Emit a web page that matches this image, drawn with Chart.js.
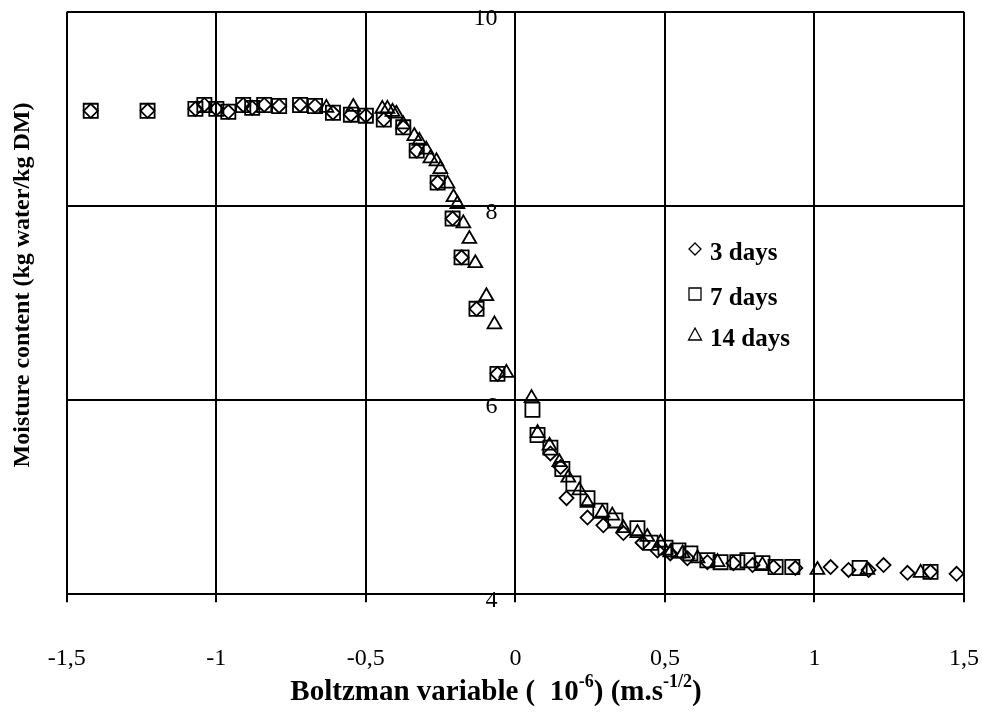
<!DOCTYPE html>
<html>
<head>
<meta charset="utf-8">
<script src="https://cdn.jsdelivr.net/npm/chart.js@4"></script>
<style>
  body { margin: 0; background: #fff; }
  #wrap { width: 982px; height: 712px; }
</style>
</head>
<body>
<div id="wrap"><canvas id="chart" width="982" height="712"></canvas></div>
<script>
const FONT = "'Liberation Serif', 'Times New Roman', serif";

// 3 days
const x3 = [-1.42, -1.23, -1.07, -1.04, -1.00, -0.96, -0.91, -0.88, -0.84, -0.79, -0.72, -0.67, -0.61, -0.55, -0.50, -0.44, -0.375, -0.33, -0.26, -0.21, -0.18, -0.13, -0.06,
  0.117, 0.151, 0.171, 0.241, 0.294, 0.361, 0.425, 0.475, 0.518, 0.575, 0.642, 0.729, 0.793, 0.863, 0.936, 1.054, 1.114, 1.181, 1.231, 1.311, 1.388, 1.475];
const y3 = [8.98, 8.98, 9.00, 9.04, 9.00, 8.97, 9.04, 9.01, 9.04, 9.03, 9.04, 9.03, 8.96, 8.94, 8.93, 8.89, 8.81, 8.57, 8.24, 7.87, 7.47, 6.94, 6.27,
  5.45, 5.31, 4.99, 4.79, 4.71, 4.63, 4.53, 4.45, 4.42, 4.37, 4.33, 4.32, 4.30, 4.28, 4.27, 4.28, 4.25, 4.25, 4.30, 4.22, 4.23, 4.21];

// 7 days
const x7 = [-1.42, -1.23, -1.07, -1.04, -1.00, -0.96, -0.91, -0.88, -0.84, -0.79, -0.72, -0.67, -0.61, -0.55, -0.50, -0.44, -0.375, -0.33, -0.26, -0.21, -0.18, -0.13, -0.06,
  0.057, 0.074, 0.117, 0.157, 0.194, 0.241, 0.284, 0.334, 0.408, 0.452, 0.502, 0.545, 0.585, 0.642, 0.686, 0.742, 0.776, 0.826, 0.870, 0.926, 1.151, 1.388];
const y7 = [8.98, 8.98, 9.00, 9.04, 9.00, 8.97, 9.04, 9.01, 9.04, 9.03, 9.04, 9.03, 8.96, 8.94, 8.93, 8.89, 8.81, 8.57, 8.24, 7.87, 7.47, 6.94, 6.27,
  5.90, 5.64, 5.51, 5.29, 5.14, 4.99, 4.86, 4.76, 4.68, 4.53, 4.48, 4.45, 4.42, 4.35, 4.33, 4.33, 4.35, 4.32, 4.28, 4.28, 4.27, 4.23];

// 14 days
const x14 = [-0.632, -0.542, -0.445, -0.428, -0.411, -0.398, -0.375, -0.338, -0.321, -0.298, -0.284, -0.264, -0.251, -0.227, -0.207, -0.194, -0.174, -0.154, -0.134, -0.097, -0.070, -0.030,
  0.054, 0.074, 0.114, 0.147, 0.177, 0.214, 0.241, 0.291, 0.324, 0.361, 0.408, 0.441, 0.485, 0.518, 0.559, 0.609, 0.676, 0.826, 1.010, 1.177, 1.355];
const y14 = [9.01, 9.02, 9.00, 9.00, 8.97, 8.95, 8.84, 8.72, 8.67, 8.58, 8.49, 8.46, 8.38, 8.23, 8.09, 8.02, 7.82, 7.66, 7.41, 7.07, 6.78, 6.28,
  6.02, 5.66, 5.53, 5.36, 5.20, 5.07, 4.94, 4.84, 4.81, 4.68, 4.63, 4.59, 4.53, 4.43, 4.42, 4.37, 4.33, 4.30, 4.25, 4.25, 4.22];

const seriesNames = ["3 days", "7 days", "14 days"];
const xTicks = [-1.5, -1, -0.5, 0, 0.5, 1, 1.5];
const yTicks = [4, 6, 8, 10];

const toPoints = (xs, ys) => xs.map((x, i) => ({ x: x, y: ys[i] }));

const marker = (style, radius) => ({
  showLine: false,
  pointStyle: style,
  pointRadius: radius,
  pointHoverRadius: radius,
  pointBorderWidth: 1.8,
  borderColor: "#000",
  backgroundColor: "rgba(0,0,0,0)"
});

// legend drawn inside the plot, no frame
const legendPlugin = {
  id: "innerLegend",
  afterDraw(chart) {
    const ctx = chart.ctx;
    const rows = [252, 297, 338];
    ctx.save();
    ctx.strokeStyle = "#000";
    ctx.lineWidth = 1.3;
    ctx.fillStyle = "#000";
    ctx.font = "bold 25px " + FONT;
    ctx.textBaseline = "middle";
    chart.data.datasets.forEach((ds, i) => {
      const mx = 695, my = rows[i] - 3;
      ctx.beginPath();
      if (ds.pointStyle === "rectRot") {
        ctx.moveTo(mx, my - 6); ctx.lineTo(mx + 6, my); ctx.lineTo(mx, my + 6); ctx.lineTo(mx - 6, my); ctx.closePath();
      } else if (ds.pointStyle === "rect") {
        ctx.rect(mx - 6, my - 6, 12, 12);
      } else {
        ctx.moveTo(mx, my - 7); ctx.lineTo(mx + 6.5, my + 5); ctx.lineTo(mx - 6.5, my + 5); ctx.closePath();
      }
      ctx.stroke();
      ctx.fillText(ds.label, 710, rows[i] + 2);
    });
    ctx.restore();
  }
};

// x axis title with superscripts
const xTitlePlugin = {
  id: "xTitle",
  afterDraw(chart) {
    const ctx = chart.ctx;
    const parts = [
      ["Boltzman variable (  10", false],
      ["-6", true],
      [") (m.s", false],
      ["-1/2", true],
      [")", false]
    ];
    const big = "bold 29px " + FONT, small = "bold 18px " + FONT;
    ctx.save();
    ctx.fillStyle = "#000";
    ctx.textBaseline = "alphabetic";
    let w = 0;
    parts.forEach(p => { ctx.font = p[1] ? small : big; w += ctx.measureText(p[0]).width; });
    let x = 496 - w / 2;
    const base = 700;
    parts.forEach(p => {
      ctx.font = p[1] ? small : big;
      ctx.fillText(p[0], x, p[1] ? base - 13 : base);
      x += ctx.measureText(p[0]).width;
    });
    ctx.restore();
  }
};

new Chart(document.getElementById("chart").getContext("2d"), {
  type: "scatter",
  data: {
    datasets: [
      Object.assign({ label: seriesNames[0], data: toPoints(x3, y3) }, marker("rectRot", 7)),
      Object.assign({ label: seriesNames[1], data: toPoints(x7, y7) }, marker("rect", 10)),
      Object.assign({ label: seriesNames[2], data: toPoints(x14, y14) }, marker("triangle", 8))
    ]
  },
  options: {
    responsive: false,
    animation: false,
    devicePixelRatio: 1,
    layout: { padding: { left: 0, right: 18, top: 11, bottom: -3 } },
    plugins: { legend: { display: false }, tooltip: { enabled: false } },
    scales: {
      x: {
        type: "linear",
        min: -1.5, max: 1.5,
        afterBuildTicks: (s) => { s.ticks = xTicks.map(v => ({ value: v })); },
        afterFit: (s) => { s.paddingLeft = 16; s.paddingRight = 16; },
        ticks: {
          callback: (v) => String(v).replace(".", ","),
          font: { family: FONT, size: 24 },
          color: "#000",
          padding: 42,
          maxRotation: 0
        },
        grid: { color: "#000", lineWidth: 2, tickLength: 8 },
        border: { color: "#000", width: 2 }
      },
      y: {
        type: "linear",
        min: 4, max: 10,
        position: { x: 0 },
        afterBuildTicks: (s) => { s.ticks = yTicks.map(v => ({ value: v })); },
        afterFit: (s) => { s.width = 0; s.paddingTop = 0; s.paddingBottom = 0; s.paddingLeft = 0; s.paddingRight = 0; },
        ticks: {
          callback: (v) => v + "   ",
          font: { family: FONT, size: 24 },
          color: "#000",
          padding: 0,
          labelOffset: 7
        },
        grid: { color: "#000", lineWidth: 2, drawTicks: false },
        border: { display: false }
      },
      yTitle: {
        type: "linear",
        position: "left",
        min: 0, max: 1,
        ticks: { display: false },
        grid: { display: false, drawTicks: false },
        border: { display: false },
        title: {
          display: true,
          text: "      Moisture content (kg water/kg DM)",
          font: { family: FONT, size: 24, weight: "bold" },
          color: "#000",
          padding: { top: 8, bottom: 30 }
        }
      }
    }
  },
  plugins: [legendPlugin, xTitlePlugin]
});
</script>
</body>
</html>
